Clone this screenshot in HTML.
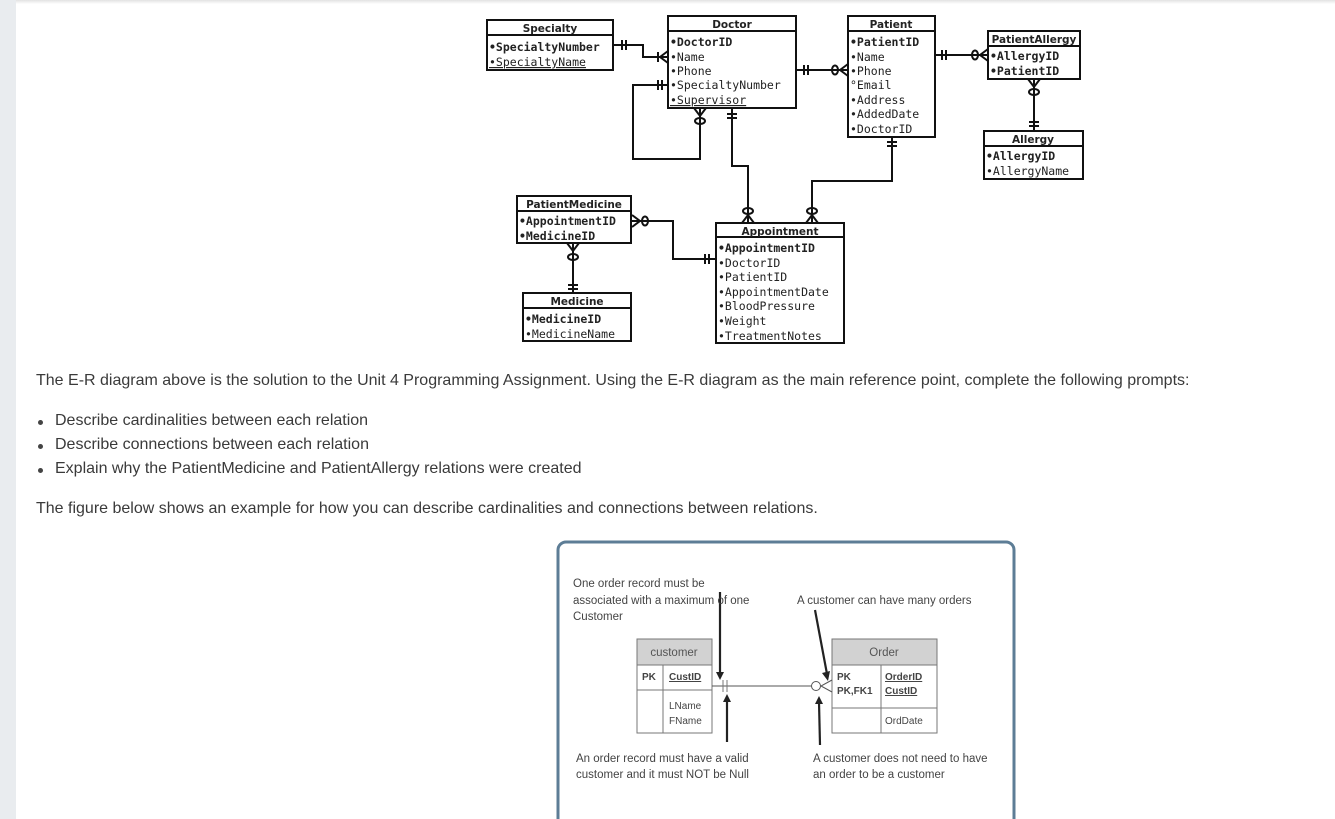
<!DOCTYPE html>
<html><head><meta charset="utf-8"><style>
html,body{margin:0;padding:0;background:#fff;}
body{width:1335px;height:819px;position:relative;overflow:hidden;font-family:"Liberation Sans",sans-serif;}
#lb{position:absolute;left:0;top:0;width:16px;height:819px;background:#e9ecef;}
#sh{position:absolute;left:16px;top:0;width:1319px;height:4px;background:linear-gradient(#e2e2e2,#fff);}
.t{position:absolute;font-size:16px;color:#3a3a3a;white-space:nowrap;}
.b{position:absolute;width:5px;height:5px;border-radius:50%;background:#444;}
svg{position:absolute;left:0;top:0;}
</style></head><body>
<div id="lb"></div><div id="sh"></div>
<svg width="1335" height="819" viewBox="0 0 1335 819">
<g fill="none" stroke="#111" stroke-width="2">
<rect x="487" y="20" width="126" height="50"/><line x1="487" y1="35" x2="613" y2="35"/>
<rect x="668" y="16" width="128" height="92"/><line x1="668" y1="31" x2="796" y2="31"/>
<rect x="848" y="16" width="87" height="121"/><line x1="848" y1="31" x2="935" y2="31"/>
<rect x="988" y="31" width="92" height="48"/><line x1="988" y1="46" x2="1080" y2="46"/>
<rect x="984" y="131" width="99" height="48"/><line x1="984" y1="146" x2="1083" y2="146"/>
<rect x="517" y="196" width="114" height="47"/><line x1="517" y1="211" x2="631" y2="211"/>
<rect x="523" y="293" width="108" height="48"/><line x1="523" y1="308" x2="631" y2="308"/>
<rect x="716" y="223" width="128" height="120"/><line x1="716" y1="237" x2="844" y2="237"/>
<polyline points="613,45 643,45 643,57 668,57"/>
<line x1="622" y1="40" x2="622" y2="50"/><line x1="626" y1="40" x2="626" y2="50"/>
<line x1="658" y1="52" x2="658" y2="62"/><polyline points="668,51 660,57 668,63"/>
<polyline points="668,85 633,85 633,159 700,159 700,108"/>
<line x1="658" y1="80" x2="658" y2="90"/><line x1="662" y1="80" x2="662" y2="90"/>
<polyline points="694,108 700,116 706,108"/><ellipse cx="700" cy="121" rx="5" ry="3"/>
<polyline points="732,108 732,166 748,166 748,223"/>
<line x1="727" y1="114" x2="737" y2="114"/><line x1="727" y1="118" x2="737" y2="118"/>
<ellipse cx="748" cy="211" rx="5" ry="3"/><polyline points="742,223 748,215 754,223"/>
<polyline points="892,137 892,181 812,181 812,223"/>
<line x1="887" y1="142" x2="897" y2="142"/><line x1="887" y1="146" x2="897" y2="146"/>
<ellipse cx="812" cy="211" rx="5" ry="3"/><polyline points="806,223 812,215 818,223"/>
<line x1="796" y1="70" x2="848" y2="70"/>
<line x1="804" y1="65" x2="804" y2="75"/><line x1="808" y1="65" x2="808" y2="75"/>
<ellipse cx="835" cy="70" rx="3" ry="4.5"/><polyline points="848,64 840,70 848,76"/>
<line x1="935" y1="55" x2="988" y2="55"/>
<line x1="942" y1="50" x2="942" y2="60"/><line x1="946" y1="50" x2="946" y2="60"/>
<ellipse cx="975" cy="55" rx="3" ry="4.5"/><polyline points="988,49 980,55 988,61"/>
<line x1="1034" y1="79" x2="1034" y2="131"/>
<polyline points="1028,79 1034,87 1040,79"/><ellipse cx="1034" cy="92" rx="5" ry="3"/>
<line x1="1029" y1="122" x2="1039" y2="122"/><line x1="1029" y1="126" x2="1039" y2="126"/>
<polyline points="631,221 673,221 673,259 716,259"/>
<polyline points="632,215 640,221 632,227"/><ellipse cx="645" cy="221" rx="3" ry="4.5"/>
<line x1="705" y1="254" x2="705" y2="264"/><line x1="709" y1="254" x2="709" y2="264"/>
<line x1="573" y1="243" x2="573" y2="293"/>
<polyline points="567,243 573,251 579,243"/><ellipse cx="573" cy="257" rx="5" ry="3"/>
<line x1="568" y1="285" x2="578" y2="285"/><line x1="568" y1="289" x2="578" y2="289"/>
</g>
<g font-family="DejaVu Sans, sans-serif" font-weight="bold" font-size="10.5" fill="#222" text-anchor="middle">
<text x="550" y="32">Specialty</text><text x="732" y="28">Doctor</text><text x="891" y="28">Patient</text>
<text x="1034" y="43">PatientAllergy</text><text x="1033" y="143">Allergy</text>
<text x="574" y="208">PatientMedicine</text><text x="577" y="305">Medicine</text><text x="780" y="235">Appointment</text>
</g>
<g font-family="DejaVu Sans Mono, monospace" font-size="11.5" fill="#222">
<text x="489" y="51" font-weight="bold">•SpecialtyNumber</text><text x="489" y="66" text-decoration="underline">•SpecialtyName</text>
<text x="670" y="46" font-weight="bold">•DoctorID</text><text x="670" y="61">•Name</text><text x="670" y="75">•Phone</text><text x="670" y="89">•SpecialtyNumber</text><text x="670" y="104" text-decoration="underline">•Supervisor</text>
<text x="850" y="46" font-weight="bold">•PatientID</text><text x="850" y="61">•Name</text><text x="850" y="75">•Phone</text><text x="850" y="89">°Email</text><text x="850" y="104">•Address</text><text x="850" y="118">•AddedDate</text><text x="850" y="133">•DoctorID</text>
<text x="990" y="60" font-weight="bold">•AllergyID</text><text x="990" y="75" font-weight="bold">•PatientID</text>
<text x="986" y="160" font-weight="bold">•AllergyID</text><text x="986" y="175">•AllergyName</text>
<text x="519" y="225" font-weight="bold">•AppointmentID</text><text x="519" y="240" font-weight="bold">•MedicineID</text>
<text x="525" y="323" font-weight="bold">•MedicineID</text><text x="525" y="338">•MedicineName</text>
<text x="718" y="252" font-weight="bold">•AppointmentID</text><text x="718" y="267">•DoctorID</text><text x="718" y="281">•PatientID</text><text x="718" y="296">•AppointmentDate</text><text x="718" y="310">•BloodPressure</text><text x="718" y="325">•Weight</text><text x="718" y="340">•TreatmentNotes</text>
</g>
<rect x="558" y="542" width="456" height="290" rx="8" fill="#fff" stroke="#5d7d96" stroke-width="3"/>
<g stroke="#777" stroke-width="1" fill="none">
<rect x="637" y="639" width="75" height="94"/><rect x="637" y="639" width="75" height="26" fill="#d2d2d2"/>
<line x1="637" y1="690" x2="712" y2="690"/><line x1="663" y1="665" x2="663" y2="733"/>
<rect x="832" y="639" width="105" height="94"/><rect x="832" y="639" width="105" height="26" fill="#d2d2d2"/>
<line x1="832" y1="708" x2="937" y2="708"/><line x1="881" y1="665" x2="881" y2="733"/>
<line x1="712" y1="686" x2="812" y2="686" stroke="#555"/>
<line x1="723" y1="680" x2="723" y2="692"/><line x1="727" y1="680" x2="727" y2="692"/>
<circle cx="816" cy="686" r="4.5" stroke="#555"/><polyline points="832,680 821,686 832,692" stroke="#555"/>
</g>
<g stroke="#222" stroke-width="2.2" fill="#222">
<line x1="720" y1="592" x2="720" y2="674"/><polygon points="716,672 724,672 720,680" stroke="none"/>
<line x1="727" y1="742" x2="727" y2="700"/><polygon points="723,702 731,702 727,694" stroke="none"/>
<line x1="815" y1="610" x2="827" y2="674"/><polygon points="822,673 830,671 828,681" stroke="none"/>
<line x1="820" y1="745" x2="819" y2="702"/><polygon points="815,704 823,704 819,696" stroke="none"/>
</g>
<g font-family="Liberation Sans, sans-serif" font-size="11.5" fill="#444">
<text x="674" y="656" text-anchor="middle" fill="#555">customer</text><text x="884" y="656" text-anchor="middle" fill="#555">Order</text>
<text x="642" y="680" font-weight="bold" font-size="10">PK</text><text x="669" y="680" font-weight="bold" font-size="10" text-decoration="underline">CustID</text>
<text x="669" y="709" font-size="10">LName</text><text x="669" y="724" font-size="10">FName</text>
<text x="837" y="680" font-weight="bold" font-size="10">PK</text><text x="837" y="694" font-weight="bold" font-size="10">PK,FK1</text>
<text x="885" y="680" font-weight="bold" font-size="10" text-decoration="underline">OrderID</text><text x="885" y="694" font-weight="bold" font-size="10" text-decoration="underline">CustID</text>
<text x="885" y="724" font-size="10">OrdDate</text>
<text x="573" y="587">One order record must be</text><text x="573" y="604">associated with a maximum of one</text><text x="573" y="620">Customer</text>
<text x="797" y="604">A customer can have many orders</text>
<text x="576" y="762">An order record must have a valid</text><text x="576" y="778">customer and it must NOT be Null</text>
<text x="813" y="762">A customer does not need to have</text><text x="813" y="778">an order to be a customer</text>
</g>
</svg>
<div class="t" style="left:36px;top:372px;">The E-R diagram above is the solution to the Unit 4 Programming Assignment. Using the E-R diagram as the main reference point, complete the following prompts:</div>
<div class="b" style="left:38px;top:420px;"></div><div class="t" style="left:55px;top:412px;">Describe cardinalities between each relation</div>
<div class="b" style="left:38px;top:444px;"></div><div class="t" style="left:55px;top:436px;">Describe connections between each relation</div>
<div class="b" style="left:38px;top:468px;"></div><div class="t" style="left:55px;top:460px;">Explain why the PatientMedicine and PatientAllergy relations were created</div>
<div class="t" style="left:36px;top:500px;">The figure below shows an example for how you can describe cardinalities and connections between relations.</div>
</body></html>
